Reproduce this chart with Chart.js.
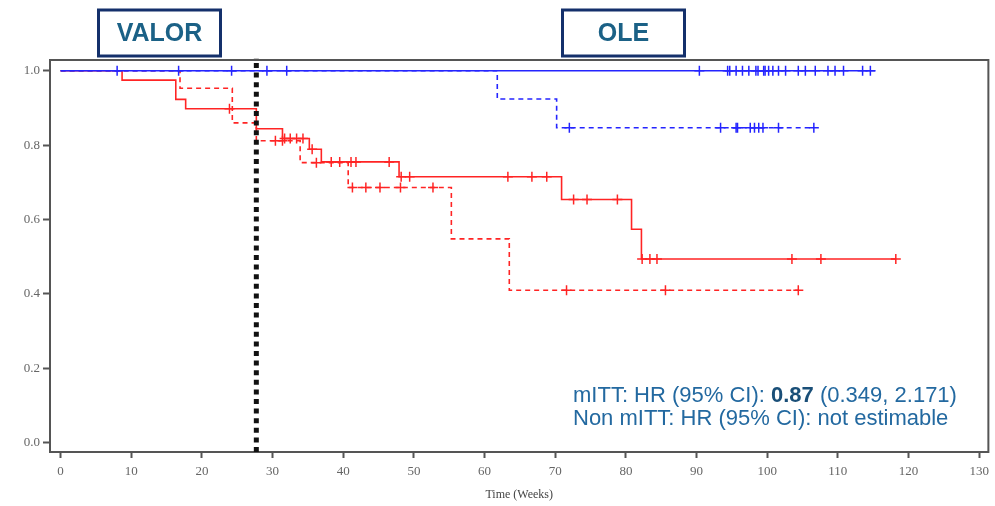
<!DOCTYPE html>
<html>
<head>
<meta charset="utf-8">
<script src="https://cdn.jsdelivr.net/npm/chart.js@4/dist/chart.umd.min.js"></script>
<style>
  html, body { margin: 0; padding: 0; background: #fff; }
</style>
</head>
<body>
<canvas id="km" width="995" height="506"></canvas>
<script>
// x axis (weeks) and y axis (survival) ticks
const weekTicks = [0, 10, 20, 30, 40, 50, 60, 70, 80, 90, 100, 110, 120, 130];
const survTicks = [0.0, 0.2, 0.4, 0.6, 0.8, 1.0];

// end of VALOR / start of OLE
const switchWeek = 27.7;

// solid blue curve
const blueSolidTimes = [0, 115.3];
const blueSolidSurv = [1.0, 1.0];
const blueSolidCensor = [8.0, 16.7, 24.2, 29.2, 32.0, 90.4, 94.4, 94.7, 95.6, 96.5, 97.4, 98.4, 98.7,
  99.5, 99.7, 100.2, 100.8, 101.6, 102.6, 104.4, 105.4, 106.8, 108.6, 109.6, 110.8, 113.5, 114.6];

// dashed blue curve
const blueDashTimes = [0, 61.8, 70.2, 106.6];
const blueDashSurv = [1.0, 0.924, 0.847, 0.847];
const blueDashCensor = [72.0, 93.4, 95.6, 95.8, 97.6, 98.2, 98.8, 99.4, 101.6, 106.6];

// solid red curve
const redSolidTimes = [0, 8.7, 16.3, 17.7, 27.7, 31.4, 35.2, 36.9, 47.9, 70.9, 80.8, 82.2, 118.2];
const redSolidSurv = [1.0, 0.975, 0.923, 0.898, 0.844, 0.818, 0.789, 0.755, 0.715, 0.654, 0.574, 0.494, 0.494];
const redSolidCensor = [23.9, 31.7, 32.5, 33.4, 34.3, 35.6, 38.3, 39.5, 41.1, 41.8, 46.5, 48.2, 49.4,
  63.3, 66.7, 68.8, 72.6, 74.5, 78.8, 82.3, 83.4, 84.4, 103.5, 107.6, 118.2];

// dashed red curve
const redDashTimes = [0, 16.9, 24.3, 27.7, 33.9, 40.7, 55.3, 63.5, 104.4];
const redDashSurv = [1.0, 0.953, 0.860, 0.812, 0.753, 0.686, 0.548, 0.410, 0.410];
const redDashCensor = [30.4, 31.4, 36.2, 41.3, 43.2, 45.2, 48.1, 52.7, 71.6, 85.6, 104.4];

const phaseNames = ['VALOR', 'OLE'];
const hrLines = [
  ['mITT: HR (95% CI): ', '0.87', ' (0.349, 2.171)'],
  ['Non mITT: HR (95% CI): not estimable']
];

const xMin = -1.5, xMax = 131.3;
const yMin = -0.025, yMax = 1.029;

const BLUE = '#2424ff';
const RED = '#ff2424';

function stepPoints(times, surv) {
  return times.map((t, i) => ({ x: t, y: surv[i] }));
}

function survAt(times, surv, t) {
  let s = surv[0];
  for (let i = 0; i < times.length; i++) {
    if (times[i] <= t) s = surv[i];
  }
  return s;
}

function censorPoints(censor, times, surv) {
  return censor.map(t => ({ x: t, y: survAt(times, surv, t) }));
}

function curve(times, surv, color, dash) {
  return {
    data: stepPoints(times, surv),
    borderColor: color,
    borderWidth: 1.6,
    borderDash: dash,
    stepped: 'before',
    pointRadius: 0,
    fill: false
  };
}

function marks(censor, times, surv, color) {
  return {
    data: censorPoints(censor, times, surv),
    showLine: false,
    pointStyle: 'cross',
    pointRadius: 5,
    borderColor: color,
    borderWidth: 1.5
  };
}

const overlay = {
  id: 'overlay',
  beforeDatasetsDraw(chart) {
    const ctx = chart.ctx, a = chart.chartArea;
    ctx.save();
    ctx.strokeStyle = '#555';
    ctx.lineWidth = 2;
    ctx.strokeRect(a.left, a.top, a.right - a.left, a.bottom - a.top);
    ctx.restore();
  },
  afterDraw(chart) {
    const ctx = chart.ctx;
    ctx.save();
    // phase boxes
    const boxes = [[98.5, 10, 122, 46], [562.5, 10, 122, 46]];
    ctx.lineWidth = 3;
    ctx.strokeStyle = '#14306b';
    ctx.fillStyle = '#1b6186';
    ctx.font = 'bold 25px "Liberation Sans", Arial, sans-serif';
    ctx.textAlign = 'center';
    ctx.textBaseline = 'middle';
    phaseNames.forEach((name, i) => {
      const [bx, by, bw, bh] = boxes[i];
      ctx.strokeRect(bx, by, bw, bh);
      ctx.fillText(name, bx + bw / 2, by + bh / 2 + 1);
    });
    // hazard ratio text
    ctx.textAlign = 'left';
    ctx.textBaseline = 'alphabetic';
    const baselines = [401.5, 424.5];
    hrLines.forEach((parts, li) => {
      let x = 573;
      parts.forEach((p, pi) => {
        const bold = li === 0 && pi === 1;
        ctx.font = (bold ? 'bold ' : '') + '22px "Liberation Sans", Arial, sans-serif';
        ctx.fillStyle = bold ? '#1a4f78' : '#2369a0';
        ctx.fillText(p, x, baselines[li]);
        x += ctx.measureText(p).width;
      });
    });
    ctx.restore();
  }
};

new Chart(document.getElementById('km'), {
  type: 'line',
  data: {
    datasets: [
      {
        data: [{ x: switchWeek, y: yMin }, { x: switchWeek, y: yMax + 0.005 }],
        borderColor: '#111',
        borderWidth: 5,
        borderDash: [5, 4.6],
        borderCapStyle: 'butt',
        pointRadius: 0,
        clip: false
      },
      curve(blueSolidTimes, blueSolidSurv, BLUE, []),
      marks(blueSolidCensor, blueSolidTimes, blueSolidSurv, BLUE),
      curve(blueDashTimes, blueDashSurv, BLUE, [5, 4]),
      marks(blueDashCensor, blueDashTimes, blueDashSurv, BLUE),
      curve(redSolidTimes, redSolidSurv, RED, []),
      marks(redSolidCensor, redSolidTimes, redSolidSurv, RED),
      curve(redDashTimes, redDashSurv, RED, [5, 4]),
      marks(redDashCensor, redDashTimes, redDashSurv, RED)
    ]
  },
  options: {
    responsive: false,
    animation: false,
    layout: { padding: { top: 60, right: 4, left: 0, bottom: 0 } },
    plugins: { legend: { display: false }, tooltip: { enabled: false } },
    scales: {
      x: {
        type: 'linear',
        min: xMin,
        max: xMax,
        afterBuildTicks: s => { s.ticks = weekTicks.map(v => ({ value: v })); },
        afterFit: s => { s.height = 54; },
        grid: { drawOnChartArea: false, tickLength: 6, tickColor: '#555', tickWidth: 2 },
        border: { display: false },
        ticks: {
          padding: 6,
          color: '#666',
          font: { family: '"Liberation Serif", "DejaVu Serif", serif', size: 13 }
        },
        title: {
          display: true,
          text: 'Time (Weeks)',
          color: '#444',
          font: { family: '"Liberation Serif", "DejaVu Serif", serif', size: 12 },
          padding: { top: 4, bottom: 4 }
        }
      },
      y: {
        min: yMin,
        max: yMax,
        afterBuildTicks: s => { s.ticks = survTicks.map(v => ({ value: v })); },
        afterFit: s => { s.width = 50; },
        grid: { drawOnChartArea: false, tickLength: 7, tickColor: '#555', tickWidth: 2 },
        border: { display: false },
        ticks: {
          padding: 3,
          color: '#666',
          callback: v => v.toFixed(1),
          font: { family: '"Liberation Serif", "DejaVu Serif", serif', size: 13 }
        }
      }
    }
  },
  plugins: [overlay]
});
</script>
</body>
</html>
